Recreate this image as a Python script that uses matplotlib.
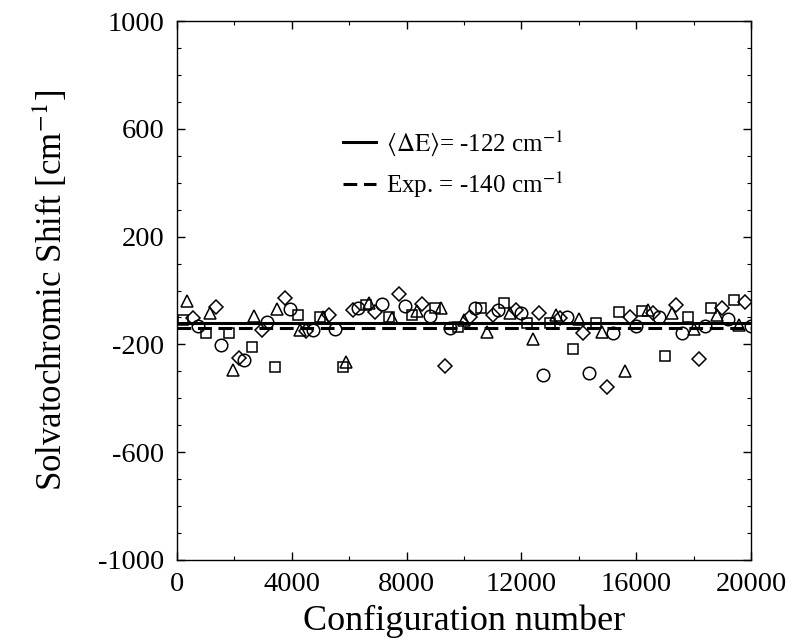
import matplotlib
matplotlib.use('Agg')
import matplotlib.pyplot as plt
from matplotlib.ticker import MultipleLocator

plt.rcParams['font.family'] = ['Liberation Serif', 'DejaVu Serif']
plt.rcParams['mathtext.fontset'] = 'stix'
plt.rcParams['axes.unicode_minus'] = False

# data
sq_x = [200, 1000, 1800, 2600, 3400, 4200, 5000, 5800, 6600, 7400, 8200,
        9000, 9800, 10600, 11400, 12200, 13000, 13800, 14600, 15400, 16200,
        17000, 17800, 18600, 19400]
sq_y = [-109, -158, -158, -210, -284, -91, -98, -284, -54, -98, -91,
        -65, -135, -65, -46, -121, -121, -217, -121, -80, -76,
        -243, -98, -65, -35]

tri_x = [350, 1150, 1950, 2700, 3500, 4300, 5100, 5900, 6700, 7500, 8350,
         9200, 10000, 10800, 11600, 12400, 13200, 14000, 14800, 15600, 16400,
         17250, 18000, 18800, 19600]
tri_y = [-39, -83, -295, -95, -69, -147, -98, -265, -46, -102, -75,
         -65, -109, -154, -83, -180, -91, -106, -154, -299, -72,
         -83, -143, -91, -128]

dia_x = [550, 1350, 2150, 2950, 3750, 4500, 5300, 6150, 6900, 7750, 8550,
         9350, 10200, 11000, 11800, 12600, 13350, 14150, 15000, 15800, 16600,
         17400, 18200, 19000, 19800]
dia_y = [-102, -61, -250, -147, -28, -150, -91, -72, -80, -13, -50,
         -280, -98, -91, -72, -83, -102, -158, -358, -98, -83,
         -54, -254, -65, -43]

circ_x = [750, 1550, 2350, 3150, 3950, 4750, 5500, 6300, 7150, 7950, 8800,
          9500, 10400, 11200, 12000, 12750, 13600, 14350, 15200, 16000, 16800,
          17600, 18400, 19200, 20000]
circ_y = [-132, -202, -258, -117, -69, -147, -143, -65, -50, -58, -95,
          -139, -65, -72, -83, -314, -98, -306, -158, -132, -98,
          -158, -132, -106, -132]

y_ticks = [-1000, -600, -200, 200, 600, 1000]
x_ticks = [0, 4000, 8000, 12000, 16000, 20000]

mean_shift = -122
exp_shift = -140

fig = plt.figure(figsize=(7.89, 6.43), dpi=100)
ax = fig.add_axes([0.2243, 0.1291, 0.7275, 0.8382])

ax.axhline(mean_shift, color='black', lw=2.2,
           label=r'$\langle\Delta\mathrm{E}\rangle$= -122 cm$^{-1}$')
ax.axhline(exp_shift, color='black', lw=2.2, dashes=(4.5, 2.2),
           label='Exp. = -140 cm$^{-1}$')

mk = dict(linestyle='none', markerfacecolor='none', markeredgecolor='black',
          markeredgewidth=1.1)
ax.plot(sq_x, sq_y, marker='s', markersize=7.5, **mk)
ax.plot(tri_x, tri_y, marker='^', markersize=9, **mk)
ax.plot(dia_x, dia_y, marker='D', markersize=7, **mk)
ax.plot(circ_x, circ_y, marker='o', markersize=9, **mk)

ax.set_xlim(0, 20000)
ax.set_ylim(-1000, 1000)
ax.set_xticks(x_ticks)
ax.set_yticks(y_ticks)
ax.xaxis.set_minor_locator(MultipleLocator(2000))
ax.yaxis.set_minor_locator(MultipleLocator(100))
ax.tick_params(which='both', direction='in', top=True, right=True,
               labelsize=20.5)
ax.tick_params(which='major', length=6, width=1, pad=9)
ax.tick_params(which='minor', length=3, width=0.8)
for sp in ax.spines.values():
    sp.set_linewidth(1.0)

ax.set_xlabel('Configuration number', fontsize=26, labelpad=5)
ax.set_ylabel(r'Solvatochromic Shift [cm$^{-1}$]', fontsize=25, labelpad=20)

ax.legend(loc='center left', bbox_to_anchor=(0.29, 0.735), frameon=False,
          fontsize=18, handlelength=1.3, handletextpad=0.4,
          labelspacing=0.45, borderpad=0, borderaxespad=0)

fig.savefig('out.png', dpi=100)
